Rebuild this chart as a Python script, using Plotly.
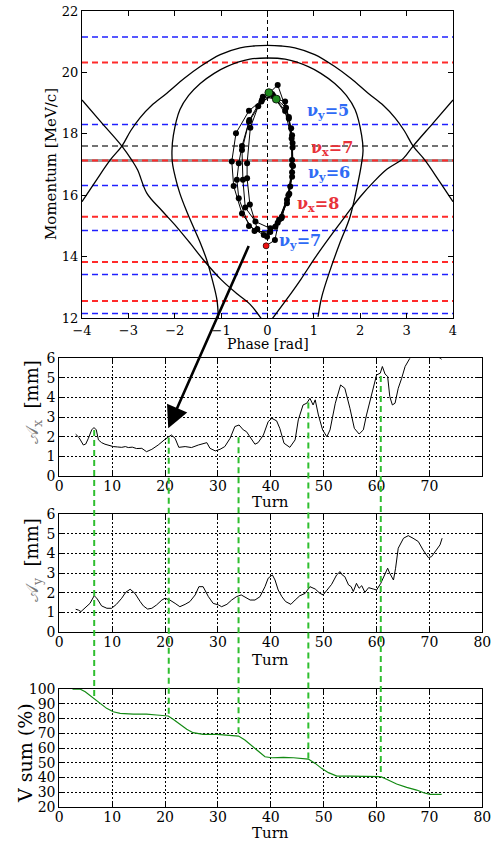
import plotly.graph_objects as go

FONT = "DejaVu Serif"
W, H = 500, 841

# ---------------- top panel data (phase [rad], momentum [MeV/c]) ----------------
tune_vy_mom = [21.15, 18.30, 16.32, 14.85, 13.42, 12.15]
tune_vx_mom = [20.32, 17.13, 15.30, 13.82, 12.55]
sync_mom = [17.60]
ref_mom = [17.13]

label_text = ["ν<sub>y</sub>=5", "ν<sub>x</sub>=7", "ν<sub>y</sub>=6", "ν<sub>x</sub>=8", "ν<sub>y</sub>=7"]
label_phase = [1.31, 1.40, 1.32, 1.08, 0.70]
label_mom = [18.72, 17.52, 16.72, 15.70, 14.48]
label_color = ["#2f6bf5", "#e8323a", "#2f6bf5", "#e8323a", "#2f6bf5"]

# separatrix branches
sepA_phase = [-4.0, -3.57, -3.14, -2.93, -2.80, -2.60, -2.28, -1.96, -1.66, -1.38, -1.00, -0.65, -0.38, -0.12]
sepA_mom = [19.10, 18.35, 17.60, 17.15, 16.82, 16.06, 15.50, 14.97, 14.42, 13.89, 13.25, 12.78, 12.45, 11.95]
sepB_phase = [-4.0, -3.70, -3.39, -3.14, -2.95, -2.75, -2.50, -2.17, -1.80, -1.45, -1.02, -0.59, -0.30, 0.0,
              0.30, 0.59, 1.02, 1.45, 1.80, 2.17, 2.50, 2.75, 2.95, 3.14, 3.39, 3.70, 4.0]
sepB_mom = [15.79, 16.47, 17.15, 17.60, 18.10, 18.52, 18.92, 19.32, 19.80, 20.19, 20.58, 20.80, 20.86, 20.88,
            20.86, 20.80, 20.58, 20.19, 19.80, 19.32, 18.92, 18.52, 18.10, 17.60, 17.15, 16.47, 15.79]
sepC_phase = [0.09, 0.42, 0.72, 1.02, 1.35, 1.68, 2.00, 2.30, 2.58, 2.93, 3.14, 3.57, 4.0]
sepC_mom = [11.95, 12.62, 13.26, 13.95, 14.65, 15.32, 15.95, 16.45, 16.85, 17.20, 17.60, 18.35, 19.10]
inner_phase = [-1.06, -1.09, -1.20, -1.31, -1.45, -1.60, -1.75, -1.89, -1.99, -2.05, -2.06, -2.03, -1.89, -1.70, -1.45,
               -1.15, -0.88, -0.38, 0.0, 0.38, 0.88, 1.15, 1.45, 1.70, 1.89, 2.03, 2.06, 2.03, 1.95, 1.78, 1.55, 1.35,
               1.17, 1.09]
inner_mom = [12.00, 12.59, 13.30, 13.89, 14.45, 14.97, 15.50, 16.06, 16.60, 17.05, 17.45, 17.95, 18.78, 19.25, 19.64,
             19.97, 20.19, 20.43, 20.47, 20.43, 20.19, 19.97, 19.64, 19.25, 18.78, 17.95, 17.45, 17.05, 16.40, 15.30,
             14.40, 13.56, 12.69, 12.04]

# tracked particle, one point per turn
track_phase = [0.03, 0.40, 0.53, 0.55, 0.47, 0.30, 0.06, -0.28, -0.55, -0.73, -0.77, -0.68, -0.40, -0.12,
               0.22, 0.46, 0.54, 0.53, 0.42, 0.17, -0.08, -0.40, -0.62, -0.66, -0.62, -0.55, -0.39, -0.10,
               0.19, 0.38, 0.51, 0.53, 0.49, 0.31, 0.06, -0.26, -0.48, -0.53, -0.55, -0.40, -0.13,
               0.12, 0.46, 0.54, 0.53, 0.45, 0.22, -0.01, -0.22, -0.38, -0.44, -0.44, -0.37, -0.20,
               0.10, 0.38, 0.52, 0.53, 0.42, 0.25, 0.16, -0.03]
track_mom = [19.34, 18.85, 17.95, 16.95, 16.05, 15.25, 14.80, 14.83, 15.40, 16.30, 17.10, 18.02, 18.75, 19.10,
             19.59, 18.55, 17.55, 16.60, 15.74, 14.97, 14.70, 15.00, 15.90, 16.50, 17.04, 17.60, 18.45, 19.21,
             19.13, 19.05, 18.18, 17.15, 16.28, 15.30, 14.92, 15.14, 15.60, 16.50, 17.47, 18.39, 19.05,
             19.25, 18.50, 17.70, 16.98, 16.00, 15.10, 14.65, 14.90, 15.70, 16.55, 17.04, 18.20, 18.90,
             19.30, 18.74, 17.85, 16.75, 15.85, 15.20, 14.54, 14.35]
start_phase = [0.03, 0.19]
start_mom = [19.34, 19.13]
end_phase = [-0.03]
end_mom = [14.35]

# arrow from the phase space to the amplitude plot
arrow_tail_phase, arrow_tail_mom = -0.33, 14.60
arrow_head_turn, arrow_head_ax = 20.6, 2.43

# ---------------- lower panels data ----------------
ax_turn = [3.1, 3.7, 4.55, 5.0, 5.5, 6.12, 6.56, 7.0, 7.4, 8.0, 8.64, 9.6, 10.2, 11.0, 11.8, 12.5, 13.05, 13.8, 14.6,
           15.6, 16.5, 17.5, 18.7, 20.0, 20.9, 21.2, 21.9, 22.6, 23.8, 25.0, 26.3, 27.9, 28.5, 29.5, 30.4, 31.3,
           32.3, 33.2, 34.0, 34.8, 35.4, 36.4, 37.0, 37.6, 38.6, 39.5, 40.2, 41.1, 41.7, 42.5, 43.6, 44.6, 45.2,
           46.1, 46.8, 47.4, 48.0, 48.4, 49.0, 49.8, 50.6, 51.2, 52.2, 53.2, 54.0, 54.97, 55.8, 56.7, 57.5, 58.1,
           59.1, 60.0, 60.7, 61.1, 61.6, 62.1, 62.5, 62.99, 63.5, 64.1, 64.75, 65.4, 66.3, 67.5, 69.0, 70.5, 71.5, 72.3]
ax_amp = [2.13, 1.97, 1.58, 1.63, 1.92, 2.35, 2.47, 2.35, 1.84, 1.70, 1.62, 1.53, 1.50, 1.48, 1.46, 1.50, 1.45, 1.47, 1.40,
          1.41, 1.24, 1.36, 1.58, 1.87, 2.04, 2.09, 1.92, 1.46, 1.50, 1.45, 1.58, 1.70, 1.41, 1.28, 1.36, 1.50,
          1.92, 2.52, 2.60, 2.35, 2.26, 1.84, 1.62, 1.70, 2.09, 2.77, 2.94, 2.81, 2.43, 1.67, 1.46, 1.84, 2.86,
          3.62, 3.71, 3.96, 3.62, 3.88, 3.11, 2.35, 2.00, 2.35, 3.71, 4.64, 4.47, 3.45, 2.43, 2.14, 2.35, 3.11,
          4.13, 5.15, 5.24, 5.58, 5.20, 5.07, 4.05, 3.62, 3.71, 4.47, 4.98, 5.58, 6.00, 6.40, 6.60, 6.40, 6.10, 5.95]

ay_turn = [3.1, 3.6, 4.1, 4.9, 5.8, 6.6, 7.1, 8.0, 9.0, 9.9, 10.8, 11.8, 12.55, 13.4, 14.3, 15.3, 15.9, 16.7, 17.5,
           18.4, 19.4, 20.0, 20.9, 21.9, 22.8, 23.8, 24.7, 25.7, 26.4, 27.2, 28.2, 29.1, 30.1, 30.7, 31.7, 32.6,
           33.5, 34.4, 35.1, 36.1, 37.0, 37.95, 38.9, 39.5, 40.3, 40.8, 41.4, 42.1, 42.8, 43.8, 44.6, 45.5, 46.5,
           47.4, 48.4, 49.3, 49.9, 50.6, 51.5, 52.45, 53.1, 53.5, 54.0, 54.7, 55.2, 55.6, 56.2, 56.7, 57.2, 57.8,
           58.5, 59.4, 60.0, 60.8, 61.6, 62.1, 62.5, 63.2, 63.6, 64.1, 65.1, 66.0, 66.9, 67.9, 68.8, 69.8, 70.4,
           71.4, 72.0, 72.4]
ay_amp = [1.16, 1.12, 1.04, 1.24, 1.46, 1.85, 1.72, 1.33, 1.21, 1.21, 1.41, 1.72, 2.02, 2.18, 1.97, 1.55, 1.33, 1.17, 1.21,
          1.38, 1.63, 1.72, 1.63, 1.46, 1.29, 1.41, 1.55, 1.89, 2.31, 2.31, 1.80, 1.46, 1.38, 1.29, 1.41, 1.63,
          1.80, 1.89, 1.80, 1.63, 1.63, 1.80, 2.31, 2.74, 2.91, 2.65, 2.14, 1.80, 1.55, 1.41, 1.63, 1.85, 1.97,
          2.31, 2.19, 1.97, 1.89, 2.14, 2.43, 2.91, 3.08, 2.91, 2.82, 2.40, 2.31, 2.06, 2.48, 2.23, 2.36, 2.02,
          2.26, 2.19, 2.14, 2.48, 2.99, 3.25, 2.99, 2.65, 3.25, 4.27, 4.78, 4.91, 4.78, 4.61, 4.18, 3.79, 3.84,
          4.18, 4.44, 4.78]

vsum_turn = [2.5, 3.9, 4.9, 6.6, 7.7, 8.95, 10.2, 11.5, 14.0, 16.5, 18.4, 20.6, 21.6, 22.8, 24.1, 25.3, 27.2, 29.8,
             32.3, 33.9, 35.1, 36.7, 37.95, 38.9, 40.2, 42.4, 44.3, 46.2, 47.1, 48.4, 49.6, 50.9, 52.5, 55.0,
             58.1, 60.8, 61.9, 63.8, 65.7, 67.6, 68.9, 70.1, 72.3]
vsum_pct = [100.0, 100.0, 98.2, 93.7, 90.3, 86.9, 84.6, 83.5, 83.0, 83.0, 82.4, 81.7, 79.4, 76.3, 72.7, 70.4, 69.3, 69.3,
            68.8, 68.1, 65.4, 60.4, 56.4, 54.1, 53.4, 53.7, 53.4, 53.0, 52.5, 49.6, 46.2, 43.3, 41.0, 41.0,
            40.6, 40.6, 38.8, 35.6, 33.3, 31.5, 29.7, 28.6, 28.6]

mark_turn = [6.6, 20.7, 33.9, 47.1, 60.8]
mark_ax_top = [2.35, 1.95, 1.97, 3.74, 5.10]
mark_vsum_end = [93.7, 81.5, 68.1, 52.5, 40.6]

# ---------------- layout geometry ----------------
dom_top_x, dom_top_y = [0.164, 0.906], [0.6219, 0.9869]
dom_low_x = [0.1186, 0.9646]
dom_ax_y, dom_ay_y, dom_vs_y = [0.434, 0.574], [0.2485, 0.3885], [0.0404, 0.1807]
rng_phase, rng_mom = [-4, 4], [12, 22]
rng_turn, rng_amp, rng_vs = [0, 80], [0, 6], [20, 100]


def to_paper(v, dom, rng):
    return dom[0] + (v - rng[0]) / (rng[1] - rng[0]) * (dom[1] - dom[0])


fig = go.Figure()


def hlines(vals, lo, hi):
    xs, ys = [], []
    for v in vals:
        xs += [lo, hi, None]
        ys += [v, v, None]
    return xs, ys


xs, ys = hlines(ref_mom, -4, 4)
fig.add_trace(go.Scatter(x=xs, y=ys, mode="lines", line=dict(color="#9a9a9a", width=3), xaxis="x", yaxis="y"))
xs, ys = hlines(tune_vy_mom, -4, 4)
fig.add_trace(go.Scatter(x=xs, y=ys, mode="lines", line=dict(color="#2020ff", width=1.5, dash="6px,4px"), xaxis="x", yaxis="y"))
xs, ys = hlines(tune_vx_mom, -4, 4)
fig.add_trace(go.Scatter(x=xs, y=ys, mode="lines", line=dict(color="#ff2a2a", width=2, dash="6px,4px"), xaxis="x", yaxis="y"))
xs, ys = hlines(sync_mom, -4, 4)
fig.add_trace(go.Scatter(x=xs, y=ys, mode="lines", line=dict(color="#444444", width=1.5, dash="6px,4px"), xaxis="x", yaxis="y"))
fig.add_trace(go.Scatter(x=[0, 0], y=rng_mom, mode="lines", line=dict(color="black", width=1, dash="4px,3px"), xaxis="x", yaxis="y"))

for px_, py_ in [(sepA_phase, sepA_mom), (sepB_phase, sepB_mom), (sepC_phase, sepC_mom), (inner_phase, inner_mom)]:
    fig.add_trace(go.Scatter(x=px_, y=py_, mode="lines", line=dict(color="black", width=1.3, shape="spline", smoothing=1.0),
                             xaxis="x", yaxis="y"))

fig.add_trace(go.Scatter(x=track_phase, y=track_mom, mode="lines+markers", line=dict(color="black", width=1),
                         marker=dict(color="black", size=6), xaxis="x", yaxis="y"))
fig.add_trace(go.Scatter(x=start_phase, y=start_mom, mode="markers",
                         marker=dict(color="#1f8a1f", size=8, line=dict(color="black", width=0.8)), xaxis="x", yaxis="y"))
fig.add_trace(go.Scatter(x=end_phase, y=end_mom, mode="markers",
                         marker=dict(color="#ee1111", size=6, line=dict(color="black", width=0.5)), xaxis="x", yaxis="y"))

fig.add_trace(go.Scatter(x=ax_turn, y=ax_amp, mode="lines", line=dict(color="black", width=1), xaxis="x2", yaxis="y2"))
fig.add_trace(go.Scatter(x=ay_turn, y=ay_amp, mode="lines", line=dict(color="black", width=1), xaxis="x3", yaxis="y3"))
fig.add_trace(go.Scatter(x=vsum_turn, y=vsum_pct, mode="lines", line=dict(color="#138a13", width=1.2), xaxis="x4", yaxis="y4"))

shapes = []
for t, a, v in zip(mark_turn, mark_ax_top, mark_vsum_end):
    shapes.append(dict(type="line", xref="x2", yref="paper", x0=t, x1=t,
                       y0=to_paper(a, dom_ax_y, rng_amp), y1=to_paper(v, dom_vs_y, rng_vs),
                       line=dict(color="#2fbf2f", width=2, dash="6px,4px"), layer="above"))

tickfont_top = dict(family=FONT, size=13, color="black")
tickfont_low = dict(family=FONT, size=14, color="black")
common = dict(showline=True, linecolor="black", linewidth=1, mirror="ticks", ticks="inside", ticklen=5,
              tickcolor="black", zeroline=False)
grid = dict(showgrid=True, gridcolor="black", gridwidth=1, griddash="1.5px,2.5px")

layout = dict(
    width=W, height=H, margin=dict(l=0, r=0, t=0, b=0, autoexpand=False),
    paper_bgcolor="white", plot_bgcolor="white", showlegend=False,
    font=dict(family=FONT, color="black"),
    xaxis=dict(domain=dom_top_x, range=rng_phase, anchor="y", tickvals=list(range(-4, 5)),
               tickfont=tickfont_top, showgrid=False, **common),
    yaxis=dict(domain=dom_top_y, range=rng_mom, anchor="x", tickvals=list(range(12, 23, 2)),
               tickfont=tickfont_top, showgrid=False, **common),
    xaxis2=dict(domain=dom_low_x, range=rng_turn, anchor="y2", tickvals=list(range(0, 71, 10)),
                tickfont=tickfont_low, ticklabelstandoff=-3, **grid, **common),
    yaxis2=dict(domain=dom_ax_y, range=rng_amp, anchor="x2", tickvals=list(range(0, 7)), tickfont=tickfont_low, **grid, **common),
    xaxis3=dict(domain=dom_low_x, range=rng_turn, anchor="y3", tickvals=list(range(0, 81, 10)),
                tickfont=tickfont_low, ticklabelstandoff=-3, **grid, **common),
    yaxis3=dict(domain=dom_ay_y, range=rng_amp, anchor="x3", tickvals=list(range(0, 7)), tickfont=tickfont_low, **grid, **common),
    xaxis4=dict(domain=dom_low_x, range=rng_turn, anchor="y4", tickvals=list(range(0, 81, 10)),
                tickfont=tickfont_low, ticklabelstandoff=-3, **grid, **common),
    yaxis4=dict(domain=dom_vs_y, range=rng_vs, anchor="x4", tickvals=list(range(20, 101, 10)), tickfont=tickfont_low, **grid, **common),
    shapes=shapes,
)
fig.update_layout(**layout)

ann = []
for txt, xp, yp_, col in zip(label_text, label_phase, label_mom, label_color):
    ann.append(dict(x=xp, y=yp_, xref="x", yref="y", text="<b>" + txt + "</b>", showarrow=False,
                    font=dict(family=FONT, size=16, color=col), xanchor="center", yanchor="middle"))


def title(text, x, y, size, angle=0):
    return dict(x=x, y=y, xref="paper", yref="paper", text=text, showarrow=False, textangle=angle,
                font=dict(family=FONT, size=size, color="black"), xanchor="center", yanchor="middle")


ann.append(title("Phase [rad]", 0.535, 1 - 344 / H, 14))
ann.append(title("Momentum [MeV/c]", 51 / W, 1 - 164 / H, 15, -90))
ann.append(title("Turn", 0.54, 1 - 502 / H, 15))
ann.append(title("Turn", 0.54, 1 - 660 / H, 15))
ann.append(title("Turn", 0.54, 1 - 833 / H, 15))
ann.append(title('<span style="color:#7a7a7a">𝒜<sub>x</sub></span>  [mm]', 33 / W, 1 - 402 / H, 18, -90))
ann.append(title('<span style="color:#7a7a7a">𝒜<sub>y</sub></span>  [mm]', 33 / W, 1 - 560 / H, 18, -90))
ann.append(title("V sum (%)", 25 / W, 1 - 753 / H, 19, -90))

hx = to_paper(arrow_head_turn, dom_low_x, rng_turn)
hy = to_paper(arrow_head_ax, dom_ax_y, rng_amp)
tx = to_paper(arrow_tail_phase, dom_top_x, rng_phase)
ty = to_paper(arrow_tail_mom, dom_top_y, rng_mom)
ann.append(dict(x=hx, y=hy, xref="paper", yref="paper", axref="pixel", ayref="pixel",
                ax=(tx - hx) * W, ay=-(ty - hy) * H, showarrow=True, arrowhead=2, arrowsize=1.7,
                arrowwidth=2.6, arrowcolor="black", standoff=0, text=" "))

fig.update_layout(annotations=ann)
fig.write_html("out.html", config={"displayModeBar": False},
               post_script="document.body.style.margin='0px';document.body.style.overflow='hidden';")
